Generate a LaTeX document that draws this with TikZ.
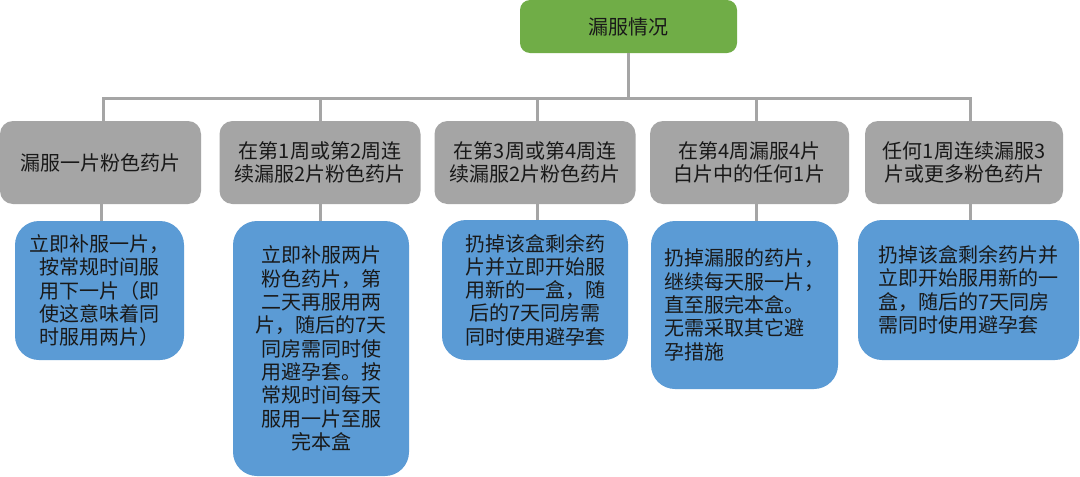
\documentclass[tikz,border=0pt]{standalone}
\usepackage{fontspec}
\setmainfont{Noto Sans CJK SC}
\begin{document}
\begin{tikzpicture}[x=1pt,y=-1pt,
  every node/.style={font=\fontsize{20}{23.3}\selectfont, text=black!90, inner sep=0pt},
  rootbox/.style={fill=rootgreen, rounded corners=10pt, minimum width=217pt, minimum height=53pt},
  graybox/.style={fill=boxgray, rounded corners=13pt, minimum width=201pt, minimum height=83pt, align=center},
  bluebox/.style={fill=boxblue, rounded corners=24pt, align=center},
  conn/.style={draw=linegray, line width=3pt}]
\definecolor{rootgreen}{HTML}{70AD47}
\definecolor{boxgray}{HTML}{A5A5A5}
\definecolor{boxblue}{HTML}{5B9BD5}
\definecolor{linegray}{HTML}{A5A5A5}
\useasboundingbox[fill=white] (0,0) rectangle (1080,477);

\node[rootbox] (root) at (628.5,26.5) {漏服情况};

\node[graybox] (g1) at (100.5,162.5) {漏服一片粉色药片};
\node[graybox] (g2) at (320,162.5) {在第1周或第2周连\\续漏服2片粉色药片};
\node[graybox] (g3) at (535,162.5) {在第3周或第4周连\\续漏服2片粉色药片};
\node[graybox, minimum width=199pt] (g4) at (749.5,162.5) {在第4周漏服4片\\白片中的任何1片};
\node[graybox, minimum width=198pt] (g5) at (964,162.5) {任何1周连续漏服3\\片或更多粉色药片};

\node[bluebox, minimum width=169pt, minimum height=139pt] (b1) at (99.5,290.5)
  {立即补服一片，\\按常规时间服\\用下一片（即\\使这意味着同\\时服用两片）};
\node[bluebox, minimum width=176pt, minimum height=255pt] (b2) at (321,348.5)
  {立即补服两片\\粉色药片，第\\二天再服用两\\片，随后的7天\\同房需同时使\\用避孕套。按\\常规时间每天\\服用一片至服\\完本盒};
\node[bluebox, minimum width=186pt, minimum height=140pt] (b3) at (535,290)
  {扔掉该盒剩余药\\片并立即开始服\\用新的一盒，随\\后的7天同房需\\同时使用避孕套};
\node[bluebox, align=left, minimum width=187pt, minimum height=168pt] (b4) at (744.5,305)
  {扔掉漏服的药片，\\继续每天服一片，\\直至服完本盒。\\无需采取其它避\\孕措施};
\node[bluebox, align=left, minimum width=221pt, minimum height=140pt] (b5) at (968.5,290)
  {扔掉该盒剩余药片并\\立即开始服用新的一\\盒，随后的7天同房\\需同时使用避孕套};

% connectors
\coordinate (j) at ([yshift=-45pt]root.south);
\draw[conn] (root.south) -- (root.south |- j);
\draw[conn] ([xshift=2.5pt]g1.north) -- ([xshift=2.5pt]g1.north |- j) -- ([xshift=6pt]g5.north |- j) -- ([xshift=6pt]g5.north);
\draw[conn] (g2.north) -- (g2.north |- j);
\draw[conn] ([xshift=2pt]g3.north) -- ([xshift=2pt]g3.north |- j);
\draw[conn] ([xshift=6.5pt]g4.north) -- ([xshift=6.5pt]g4.north |- j);

\draw[conn] ([xshift=1pt]g1.south) -- ([xshift=1pt]g1.south |- b1.north);
\draw[conn] (g2.south) -- (g2.south |- b2.north);
\draw[conn] ([xshift=2pt]g3.south) -- ([xshift=2pt]g3.south |- b3.north);
\draw[conn] ([xshift=6.5pt]g4.south) -- ([xshift=6.5pt]g4.south |- b4.north);
\draw[conn] ([xshift=6pt]g5.south) -- ([xshift=6pt]g5.south |- b5.north);
\end{tikzpicture}
\end{document}
